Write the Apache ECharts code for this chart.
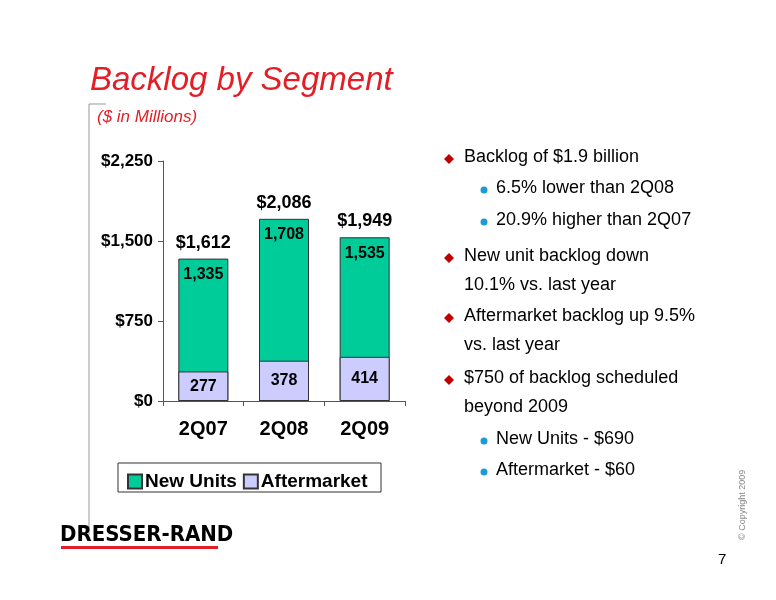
<!DOCTYPE html>
<html>
<head>
<meta charset="utf-8">
<script src="https://cdn.jsdelivr.net/npm/echarts@6/dist/echarts.min.js"></script>
<style>body{margin:0;background:#fff}#main{width:776px;height:600px}</style>
</head>
<body>
<div id="main"></div>
<script>
var quarters = ['2Q07', '2Q08', '2Q09'];
var newUnits = [1335, 1708, 1535];
var aftermarket = [277, 378, 414];
var totals = [1612, 2086, 1949];

// 右侧要点文字
var bullets = [
	{lvl: 1, y: 159, t: 'Backlog of $1.9 billion'},
	{lvl: 2, y: 190, t: '6.5% lower than 2Q08'},
	{lvl: 2, y: 222, t: '20.9% higher than 2Q07'},
	{lvl: 1, y: 258, t: 'New unit backlog down'},
	{lvl: 0, y: 287, t: '10.1% vs. last year'},
	{lvl: 1, y: 318, t: 'Aftermarket backlog up 9.5%'},
	{lvl: 0, y: 347, t: 'vs. last year'},
	{lvl: 1, y: 380, t: '$750 of backlog scheduled'},
	{lvl: 0, y: 409, t: 'beyond 2009'},
	{lvl: 2, y: 441, t: 'New Units - $690'},
	{lvl: 2, y: 472, t: 'Aftermarket - $60'}
];

function fmt(v){
	return v.toString().replace(/\B(?=(\d{3})+(?!\d))/g, ',');
}

var font = 'Liberation Sans, Arial, sans-serif';
var graphics = [
	{type:'text', left:90, top:64, style:{text:'Backlog by Segment', fill:'#e41e26', font:'italic 33px ' + font}},
	{type:'text', left:97, top:109, style:{text:'($ in Millions)', fill:'#e41e26', font:'italic 17px ' + font}},
	{type:'line', shape:{x1:89, y1:104, x2:89, y2:535}, style:{stroke:'#999', lineWidth:1}},
	{type:'line', shape:{x1:89, y1:104, x2:106, y2:104}, style:{stroke:'#999', lineWidth:1}},
	{type:'rect', shape:{x:118, y:463, width:263, height:29}, style:{fill:'#fff', stroke:'#333', lineWidth:1}},
	{type:'text', left:60, top:524, style:{text:'DRESSER-RAND', fill:'#000', font:'bold 22px "DejaVu Sans Condensed", ' + font}},
	{type:'rect', shape:{x:61, y:546, width:157, height:3}, style:{fill:'#e41e26'}},
	{type:'text', left:718, top:552, style:{text:'7', fill:'#000', font:'15px ' + font}},
	{type:'text', x:738, y:540, rotation:Math.PI/2, style:{text:'© Copyright 2009', fill:'#888', font:'9px ' + font}}
];
bullets.forEach(function(b){
	if(b.lvl == 1){
		graphics.push({type:'polygon', shape:{points:[[449,b.y-5],[454,b.y],[449,b.y+5],[444,b.y]]}, style:{fill:'#c00000'}});
	}else if(b.lvl == 2){
		graphics.push({type:'circle', shape:{cx:484, cy:b.y, r:3.5}, style:{fill:'#1e9bd7'}});
	}
	graphics.push({type:'text', left: b.lvl == 2 ? 496 : 464, top: b.y - 11,
		style:{text:b.t, fill:'#000', font:'18px ' + font}});
});

var lbl = {show: true, position: 'insideTop', distance: 8, fontSize: 16, fontWeight: 'bold', color: '#000',
	formatter: function(p){ return fmt(p.value); }};

var chart = echarts.init(document.getElementById('main'));
var option = {
	animation: false,
	textStyle: {fontFamily: font},
	graphic: graphics,
	legend: {
		left: 122, top: 467, itemGap: 6, itemWidth: 14, itemHeight: 14,
		icon: 'rect',
		textStyle: {fontSize: 19, fontWeight: 'bold', color: '#000', padding: [0, 0, 0, -2]},
		data: ['New Units', 'Aftermarket']
	},
	grid: {left: 163, right: 371, top: 161, bottom: 199},
	xAxis: {
		type: 'category', data: quarters,
		axisLine: {lineStyle: {color: '#555'}},
		axisTick: {show: true, lineStyle: {color: '#555'}},
		axisLabel: {fontSize: 20, fontWeight: 'bold', color: '#000', margin: 18}
	},
	yAxis: {
		type: 'value', min: 0, max: 2250, interval: 750,
		axisLine: {show: true, lineStyle: {color: '#555'}},
		axisTick: {show: true, lineStyle: {color: '#555'}},
		splitLine: {show: false},
		axisLabel: {fontSize: 17, fontWeight: 'bold', color: '#000', margin: 10,
			formatter: function(v){ return '$' + fmt(v); }}
	},
	series: [
		{
			name: 'New Units', type: 'bar', data: newUnits, barWidth: 50, barGap: '-100%', z: 2,
			itemStyle: {color: '#00cc99', borderColor: '#333', borderWidth: 1},
			label: lbl
		},
		{
			name: 'Aftermarket', type: 'bar', data: aftermarket, barWidth: 50, barGap: '-100%', z: 3,
			itemStyle: {color: '#ccccff', borderColor: '#333', borderWidth: 1},
			label: {show: true, position: 'inside', fontSize: 16, fontWeight: 'bold', color: '#000',
				formatter: function(p){ return fmt(p.value); }}
		},
		{
			name: 'Total', type: 'bar', data: newUnits, barWidth: 50, barGap: '-100%', z: 1,
			itemStyle: {color: 'transparent'},
			label: {show: true, position: 'top', distance: 7, fontSize: 18, fontWeight: 'bold', color: '#000',
				formatter: function(p){ return '$' + fmt(totals[p.dataIndex]); }}
		}
	]
};
chart.setOption(option);
</script>
</body>
</html>
